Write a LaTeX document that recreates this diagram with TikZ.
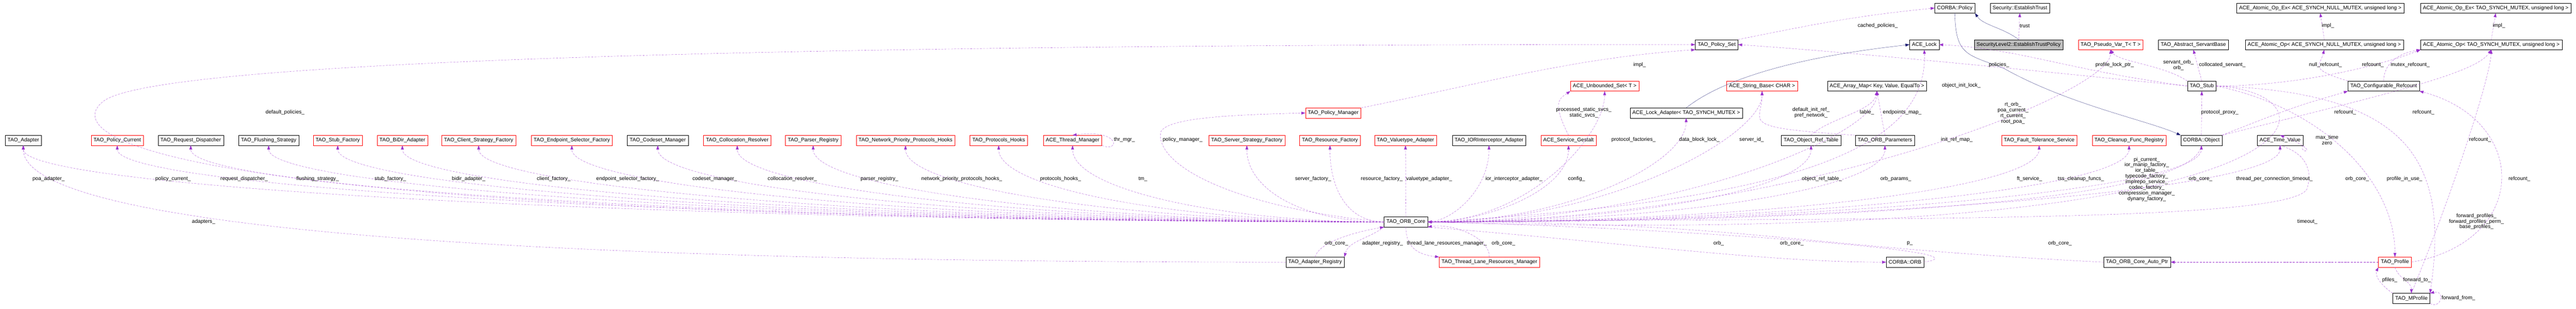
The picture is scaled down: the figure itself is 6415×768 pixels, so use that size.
\documentclass[tikz,border=0pt]{standalone}
\usepackage{fontspec}
\setmainfont{Liberation Sans}
\usepackage{xcolor}
\usepackage{tikz}
\usetikzlibrary{arrows.meta,positioning}
\definecolor{usepurple}{RGB}{154,50,205}
\definecolor{inheritblue}{RGB}{25,25,112}
\definecolor{missred}{RGB}{255,0,0}
\definecolor{focusgray}{RGB}{191,191,191}
\tikzset{
  classbox/.style={draw=black, fill=white, minimum height=25pt, inner xsep=6pt, inner ysep=0pt, font=\fontsize{13}{14}\selectfont},
  missbox/.style={classbox, draw=missred},
  focusbox/.style={classbox, fill=focusgray},
  usedge/.style={usepurple, dash pattern=on 5pt off 3pt, -{Triangle[length=10pt,width=7pt]}},
  inheritedge/.style={inheritblue, -{Triangle[length=10pt,width=7pt]}},
  lbl/.style={font=\fontsize{13}{14}\selectfont, align=center, inner sep=1pt}
}
\begin{document}
\begin{tikzpicture}[x=1pt, y=-1pt]
\useasboundingbox (0,0) rectangle (6415,768);
% top rows
\node[classbox] (corbapolicy) at (4868,20) {CORBA::Policy};
\node[classbox] (esttrust) at (5030,20) {Security::EstablishTrust};
\node[classbox] (atomexnull) at (5778,20) {ACE\_Atomic\_Op\_Ex< ACE\_SYNCH\_NULL\_MUTEX, unsigned long >};
\node[classbox] (atomextao) at (6215,20) {ACE\_Atomic\_Op\_Ex< TAO\_SYNCH\_MUTEX, unsigned long >};
\node[classbox] (policyset) at (4275,111) {TAO\_Policy\_Set};
\node[classbox] (acelock) at (4792,111) {ACE\_Lock};
\node[focusbox] (trustpolicy) at (5027,111) {SecurityLevel2::EstablishTrustPolicy};
\node[missbox] (pseudovar) at (5256,111) {TAO\_Pseudo\_Var\_T< T >};
\node[classbox] (servantbase) at (5462,111) {TAO\_Abstract\_ServantBase};
\node[classbox] (atomnull) at (5788,111) {ACE\_Atomic\_Op< ACE\_SYNCH\_NULL\_MUTEX, unsigned long >};
\node[classbox] (atomtao) at (6204,111) {ACE\_Atomic\_Op< TAO\_SYNCH\_MUTEX, unsigned long >};
\node[missbox] (unboundedset) at (3996,214) {ACE\_Unbounded\_Set< T >};
\node[missbox] (stringbase) at (4388,214) {ACE\_String\_Base< CHAR >};
\node[classbox] (arraymap) at (4674,214) {ACE\_Array\_Map< Key, Value, EqualTo >};
\node[classbox] (stub) at (5483,214) {TAO\_Stub};
\node[classbox] (confrefcount) at (5936,214) {TAO\_Configurable\_Refcount};
\node[missbox] (policymanager) at (3320,281) {TAO\_Policy\_Manager};
\node[classbox] (lockadapter) at (4199,281) {ACE\_Lock\_Adapter< TAO\_SYNCH\_MUTEX >};
% member row
\node[classbox] (adapter) at (58,349) {TAO\_Adapter};
\node[missbox] (policycurrent) at (292,349) {TAO\_Policy\_Current};
\node[classbox] (requestdisp) at (475,349) {TAO\_Request\_Dispatcher};
\node[classbox] (flushing) at (669,349) {TAO\_Flushing\_Strategy};
\node[missbox] (stubfactory) at (841,349) {TAO\_Stub\_Factory};
\node[missbox] (bidir) at (1002,349) {TAO\_BiDir\_Adapter};
\node[missbox] (clientfactory) at (1192,349) {TAO\_Client\_Strategy\_Factory};
\node[missbox] (endpointsel) at (1424,349) {TAO\_Endpoint\_Selector\_Factory};
\node[classbox] (codeset) at (1638,349) {TAO\_Codeset\_Manager};
\node[missbox] (collocation) at (1836,349) {TAO\_Collocation\_Resolver};
\node[missbox] (parserreg) at (2025,349) {TAO\_Parser\_Registry};
\node[missbox] (netprio) at (2255,349) {TAO\_Network\_Priority\_Protocols\_Hooks};
\node[missbox] (protohooks) at (2487,349) {TAO\_Protocols\_Hooks};
\node[missbox] (threadmgr) at (2671,349) {ACE\_Thread\_Manager};
\node[missbox] (serverfactory) at (3105,349) {TAO\_Server\_Strategy\_Factory};
\node[missbox] (resourcefactory) at (3312,349) {TAO\_Resource\_Factory};
\node[missbox] (valuetype) at (3500,349) {TAO\_Valuetype\_Adapter};
\node[classbox] (iorinterceptor) at (3708,349) {TAO\_IORInterceptor\_Adapter};
\node[missbox] (gestalt) at (3906,349) {ACE\_Service\_Gestalt};
\node[classbox] (objreftable) at (4510,349) {TAO\_Object\_Ref\_Table};
\node[classbox] (orbparams) at (4694,349) {TAO\_ORB\_Parameters};
\node[missbox] (ftservice) at (5078,349) {TAO\_Fault\_Tolerance\_Service};
\node[missbox] (cleanup) at (5302,349) {TAO\_Cleanup\_Func\_Registry};
\node[classbox] (corbaobject) at (5482,349) {CORBA::Object};
\node[classbox] (timevalue) at (5678,349) {ACE\_Time\_Value};
% core and bottom rows
\node[classbox] (core) at (3501,552) {TAO\_ORB\_Core};
\node[classbox] (adapterreg) at (3275,652) {TAO\_Adapter\_Registry};
\node[missbox] (lanemgr) at (3709,652) {TAO\_Thread\_Lane\_Resources\_Manager};
\node[classbox] (corbaorb) at (4744,652) {CORBA::ORB};
\node[classbox] (autoptr) at (5322,652) {TAO\_ORB\_Core\_Auto\_Ptr};
\node[missbox] (profile) at (5964,652) {TAO\_Profile};
\node[classbox] (mprofile) at (6005,742) {TAO\_MProfile};
% members of the core, to the left
\foreach \n/\c in {adapter/1700,policycurrent/1550,requestdisp/1480,flushing/1380,stubfactory/1300,bidir/1200,clientfactory/1100,endpointsel/1000,codeset/900,collocation/800,parserreg/720,netprio/600,protohooks/500,threadmgr/400,serverfactory/200,resourcefactory/90}
  \draw[usedge] (core.west) .. controls +(-\c,0) and +(0,110) .. (\n.south);
\draw[usedge] (core.north) -- (valuetype.south);
\foreach \n/\c in {iorinterceptor/60,gestalt/150,unboundedset/250,lockadapter/350,stringbase/450,objreftable/500,orbparams/600,arraymap/600,pseudovar/900,ftservice/800,cleanup/900,corbaobject/1000,timevalue/1100}
  \draw[usedge] (core.east) .. controls +(\c,0) and +(0,110) .. (\n.south);
\draw[usedge] (adapterreg.west) .. controls +(-2500,0) and +(0,150) .. (adapter.south);
\draw[usedge] (core.west) .. controls (300,545) and (150,330) .. (260,250) .. controls (450,120) and (3000,110) .. (policyset.west);
\draw[usedge] (core.west) .. controls (3100,520) and (2880,420) .. (2890,330) .. controls (2900,290) and (3100,285) .. (policymanager.west);
\draw[usedge] (threadmgr.south east) .. controls (2790,380) and (2790,320) .. (threadmgr.north);
\draw[usedge] (core.east) .. controls (4500,500) and (4800,360) .. (acelock.south);
% bottom members
\draw[usedge] (adapterreg.north) .. controls +(10,-40) and +(-60,10) .. (core.south west);
\draw[usedge] (core.south west) .. controls +(-40,30) and +(10,-40) .. (adapterreg.north east);
\draw[usedge] (core.south) .. controls +(0,60) and +(-40,-5) .. (lanemgr.north west);
\draw[usedge] (lanemgr.north) .. controls +(0,-50) and +(60,-10) .. (core.south east);
\draw[usedge] (core.south east) .. controls +(500,40) and +(-300,0) .. (corbaorb.west);
\draw[usedge] (corbaorb.east) .. controls +(200,-30) and +(500,10) .. (core.east);
\draw[usedge] (autoptr.west) .. controls +(-800,-40) and +(800,0) .. (core.east);
\draw[usedge] (profile.west) .. controls +(-300,0) and +(300,0) .. (autoptr.east);
\draw[usedge] (stub.east) .. controls (5850,230) and (5850,620) .. (core.east);
\draw[usedge] (corbaobject.south) .. controls +(-20,150) and +(900,0) .. (core.east);
% upper rows
\draw[usedge] (policymanager.north east) .. controls +(300,-60) and +(-300,20) .. (policyset.south west);
\draw[usedge] (policyset.north east) .. controls +(200,-40) and +(-200,20) .. (corbapolicy.west);
\draw[usedge] (gestalt.north) .. controls +(-40,-80) and +(-30,20) .. (unboundedset.south west);
\draw[usedge] (orbparams.north west) .. controls +(-300,-20) and +(0,80) .. (stringbase.south);
\draw[usedge] (objreftable.north) .. controls +(40,-40) and +(-10,50) .. (arraymap.south);
\draw[usedge] (orbparams.north) -- (arraymap.south);
\draw[inheritedge] (lockadapter.north) .. controls (4260,220) and (4400,150) .. (acelock.west);
\draw[inheritedge] (trustpolicy.north) .. controls +(-40,-30) and +(20,30) .. (corbapolicy.south east);
\draw[inheritedge] (corbapolicy.south) .. controls (4870,140) and (4900,135) .. (4990,170) .. controls (5150,260) and (5350,300) .. (corbaobject.north west);
\draw[usedge] (trustpolicy.north) -- (esttrust.south);
\draw[usedge] (stub.west) .. controls +(-400,-40) and +(300,20) .. (policyset.east);
\draw[usedge] (stub.west) .. controls +(-300,-40) and +(200,10) .. (acelock.east);
\draw[usedge] (stub.north west) .. controls +(-60,-40) and +(20,30) .. (pseudovar.south);
\draw[usedge] (stub.north) -- (servantbase.south);
\draw[usedge] (corbaobject.north) -- (stub.south);
\draw[usedge] (stub.east) .. controls +(200,0) and +(-100,40) .. (atomtao.south west);
\draw[usedge] (corbaobject.north east) .. controls +(200,-80) and +(-100,30) .. (confrefcount.south west);
\draw[usedge] (corbaobject.north east) .. controls +(400,-100) and +(-40,60) .. (atomtao.south);
\draw[usedge] (confrefcount.north west) .. controls +(-100,-30) and +(-10,40) .. (atomnull.south);
\draw[usedge] (confrefcount.north) .. controls +(0,-40) and +(-60,10) .. (atomtao.south west);
\draw[usedge] (atomnull.north) -- (atomexnull.south);
\draw[usedge] (atomtao.north) -- (atomextao.south);
\draw[usedge] (timevalue.south) .. controls (5740,380) and (5760,420) .. (5745,470) .. controls (5700,560) and (4500,540) .. (core.east);
\draw[usedge] (timevalue.south east) .. controls (5720,385) and (5790,380) .. (timevalue.north);
\draw[usedge] (stub.east) .. controls +(250,50) and +(0,-200) .. (profile.north);
\draw[usedge] (stub.east) .. controls (6000,230) and (6100,400) .. (mprofile.north east);
\draw[usedge] (mprofile.north) .. controls (6100,500) and (6200,200) .. (atomtao.south);
\draw[usedge] (profile.east) .. controls (6300,600) and (6300,300) .. (confrefcount.south east);
\draw[usedge] (profile.south) .. controls +(10,30) and +(0,-30) .. (mprofile.north);
\draw[usedge] (mprofile.north west) .. controls +(-30,-20) and +(-10,20) .. (profile.south west);
\draw[usedge] (mprofile.south east) .. controls (6080,770) and (6090,720) .. (mprofile.north east);
% labels
\foreach \x/\y/\t in {121/445/poa\_adapter\_, 507/552/adapters\_, 710/280/default\_policies\_, 431/445/policy\_current\_, 608/445/request\_dispatcher\_, 791/445/flushing\_strategy\_, 972/445/stub\_factory\_, 1167/445/bidir\_adapter\_, 1379/445/client\_factory\_, 1563/445/endpoint\_selector\_factory\_, 1780/445/codeset\_manager\_, 1973/445/collocation\_resolver\_, 2190/445/parser\_registry\_, 2395/445/network\_priority\_protocols\_hooks\_, 2641/445/protocols\_hooks\_, 2846/445/tm\_, 2800/348/thr\_mgr\_, 2945/348/policy\_manager\_, 3270/445/server\_factory\_, 3441/445/resource\_factory\_, 3559/445/valuetype\_adapter\_, 3770/445/ior\_interceptor\_adapter\_, 3926/445/config\_, 4068/348/protocol\_factories\_, 4232/348/data\_block\_lock\_, 4362/348/server\_id\_, 4083/161/impl\_, 3328/605/orb\_core\_, 3443/605/adapter\_registry\_, 3603/605/thread\_lane\_resources\_manager\_, 3744/605/orb\_core\_, 4280/605/orb\_, 4462/605/orb\_core\_, 4756/605/p\_, 5130/605/orb\_core\_, 4676/64/cached\_policies\_, 5042/64/trust, 4978/161/policies\_, 5266/161/profile\_lock\_ptr\_, 4884/213/object\_init\_lock\_, 4649/280/table\_, 4737/280/endpoints\_map\_, 4873/348/init\_ref\_map\_, 4537/445/object\_ref\_table\_, 4721/445/orb\_params\_, 5054/445/ft\_service\_, 5182/445/tss\_cleanup\_funcs\_, 5480/445/orb\_core\_, 5534/161/collocated\_servant\_, 5528/280/protocol\_proxy\_, 5797/64/impl\_, 6223/64/impl\_, 5791/161/null\_refcount\_, 5909/161/refcount\_, 6002/161/mutex\_refcount\_, 5840/280/refcount\_, 6035/280/refcount\_, 5664/445/thread\_per\_connection\_timeout\_, 5870/445/orb\_core\_, 5988/445/profile\_in\_use\_, 6176/348/refcount\_, 6274/445/refcount\_, 5746/551/timeout\_, 5951/696/pfiles\_, 6019/696/forward\_to\_, 6122/741/forward\_from\_}
  \node[lbl] at (\x,\y) {\t};
\node[lbl] (svcslbl) at (3944,280) {processed\_static\_svcs\_\\static\_svcs\_};
\node[lbl] (initreflbl) at (4510,280) {default\_init\_ref\_\\pref\_network\_};
\node[lbl] (rtorblbl) at (5013,281) {rt\_orb\_\\poa\_current\_\\rt\_current\_\\root\_poa\_};
\node[lbl] (servantlbl) at (5425,162) {servant\_orb\_\\orb\_};
\node[lbl] (timelbl) at (5795,348) {max\_time\\zero};
\node[lbl] (picurrentlbl) at (5346,446) {pi\_current\_\\ior\_manip\_factory\_\\ior\_table\_\\typecode\_factory\_\\implrepo\_service\_\\codec\_factory\_\\compression\_manager\_\\dynany\_factory\_};
\node[lbl] (profileslbl) at (6167,551) {forward\_profiles\_\\forward\_profiles\_perm\_\\base\_profiles\_};
\end{tikzpicture}
\end{document}
